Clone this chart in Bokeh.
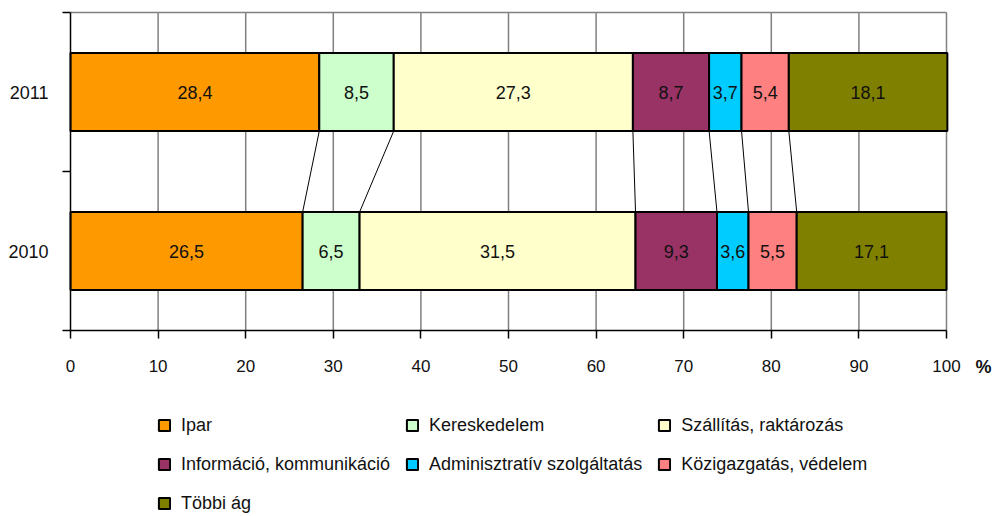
from bokeh.plotting import figure
from bokeh.models import ColumnDataSource, FixedTicker, Legend, LegendItem, Label, Range1d
from bokeh.core.properties import value
from bokeh.embed import file_html
from bokeh.resources import INLINE

years = ["2011", "2010"]
sectors = ["Ipar", "Kereskedelem", "Szállítás, raktározás",
           "Információ, kommunikáció", "Adminisztratív szolgáltatás",
           "Közigazgatás, védelem", "Többi ág"]
colors = ["#FF9900", "#CCFFCC", "#FFFFCC", "#993366", "#00CCFF", "#FF8080", "#808000"]
values_2011 = [28.4, 8.5, 27.3, 8.7, 3.7, 5.4, 18.1]
values_2010 = [26.5, 6.5, 31.5, 9.3, 3.6, 5.5, 17.1]
labels_2011 = ["28,4", "8,5", "27,3", "8,7", "3,7", "5,4", "18,1"]
labels_2010 = ["26,5", "6,5", "31,5", "9,3", "3,6", "5,5", "17,1"]
x_ticks = [0, 10, 20, 30, 40, 50, 60, 70, 80, 90, 100]
X_MIN, X_MAX = 0, 100

FONT = "Liberation Sans"
BAR_H = 0.49

# --- layout (pixels) ---
W, H = 992, 514
PX_LEFT, PX_RIGHT = 70, 946      # where X_MIN / X_MAX sit
PX_TOP, PX_BOTTOM = 12, 330      # where category band top / bottom sit

n = len(years)
sx = (PX_RIGHT - PX_LEFT) / (X_MAX - X_MIN)
sy = (PX_BOTTOM - PX_TOP) / n
x_range = Range1d(X_MIN - PX_LEFT / sx, X_MAX + (W - PX_RIGHT) / sx)
y_range = Range1d(-(H - PX_BOTTOM) / sy, n + PX_TOP / sy)

series = {"2011": values_2011, "2010": values_2010}
texts = {"2011": labels_2011, "2010": labels_2010}
ypos = {y: n - i - 0.5 for i, y in enumerate(years)}

def cumul(vals):
    out, s = [], 0.0
    for v in vals:
        out.append((s, s + v))
        s += v
    return out

cum = {y: cumul(series[y]) for y in years}

p = figure(width=W, height=H, output_backend="svg", toolbar_location=None,
           x_range=x_range, y_range=y_range,
           min_border_left=0, min_border_right=0, min_border_top=0, min_border_bottom=0)
p.background_fill_color = "white"
p.border_fill_color = "white"
p.outline_line_color = None
p.xgrid.visible = False
p.ygrid.visible = False

# grid lines (vertical) and top border
p.segment(x0=x_ticks[1:], y0=[0] * (len(x_ticks) - 1), x1=x_ticks[1:], y1=[n] * (len(x_ticks) - 1),
          line_color="#808080", line_width=1.5)
p.segment(x0=[X_MIN], y0=[n], x1=[X_MAX], y1=[n], line_color="#808080", line_width=1.5)

# bars
items = []
for k, name in enumerate(sectors):
    src = ColumnDataSource(dict(
        y=[ypos[y] for y in years],
        left=[cum[y][k][0] for y in years],
        right=[cum[y][k][1] for y in years],
    ))
    r = p.hbar(y="y", left="left", right="right", height=BAR_H, source=src,
               fill_color=colors[k], line_color="black", line_width=2)
    items.append(LegendItem(label=name, renderers=[r]))

# connector lines
x0s, y0s, x1s, y1s = [], [], [], []
for a, b in zip(years[:-1], years[1:]):
    for k in range(len(sectors) - 1):
        x0s.append(cum[a][k][1]); y0s.append(ypos[a] - BAR_H / 2)
        x1s.append(cum[b][k][1]); y1s.append(ypos[b] + BAR_H / 2)
p.segment(x0=x0s, y0=y0s, x1=x1s, y1=y1s, line_color="black", line_width=1)

# bar value labels
tx, ty, tt = [], [], []
for y in years:
    for k in range(len(sectors)):
        lo, hi = cum[y][k]
        tx.append((lo + hi) / 2); ty.append(ypos[y]); tt.append(texts[y][k])
p.text(x=tx, y=ty, text=tt, text_align="center", text_baseline="middle",
       text_font=value(FONT), text_font_size="18px", text_color="#111111")

# axes
xa = p.xaxis[0]
xa.fixed_location = 0
xa.bounds = (X_MIN, X_MAX)
xa.ticker = FixedTicker(ticks=x_ticks)
xa.axis_line_color = "black"
xa.axis_line_width = 1.5
xa.major_tick_line_color = "black"
xa.major_tick_line_width = 1.5
xa.major_tick_in = 0
xa.major_tick_out = 8
xa.minor_tick_line_color = None
xa.major_label_text_font = FONT
xa.major_label_text_font_size = "17px"
xa.major_label_text_color = "#111111"
xa.major_label_standoff = 21

ya = p.yaxis[0]
ya.fixed_location = X_MIN
ya.bounds = (0, n)
ya.ticker = FixedTicker(ticks=[ypos[y] for y in years], minor_ticks=list(range(n + 1)))
ya.major_label_overrides = {ypos[y]: y for y in years}
ya.axis_line_color = "black"
ya.axis_line_width = 1.5
ya.major_tick_line_color = None
ya.major_tick_in = 0
ya.major_tick_out = 0
ya.minor_tick_line_color = "black"
ya.minor_tick_line_width = 1.5
ya.minor_tick_in = 0
ya.minor_tick_out = 8
ya.major_label_text_font = FONT
ya.major_label_text_font_size = "18px"
ya.major_label_text_color = "#111111"
ya.major_label_standoff = 14

p.add_layout(Label(x=X_MAX, y=0, x_offset=37, y_offset=-36, text="%",
                   text_font=FONT, text_font_size="18px", text_font_style="bold",
                   text_align="center", text_baseline="middle", text_color="#111111"))

legend = Legend(items=items, location=(157, -1), orientation="horizontal", ncols=3,
                label_text_font=FONT, label_text_font_size="18px",
                label_text_color="#111111",
                glyph_width=14, glyph_height=14, label_standoff=10,
                label_height=24, spacing=15, padding=0, margin=0,
                border_line_color=None, background_fill_alpha=0)
p.add_layout(legend, "center")

open("out.html", "w").write(file_html(p, INLINE))
